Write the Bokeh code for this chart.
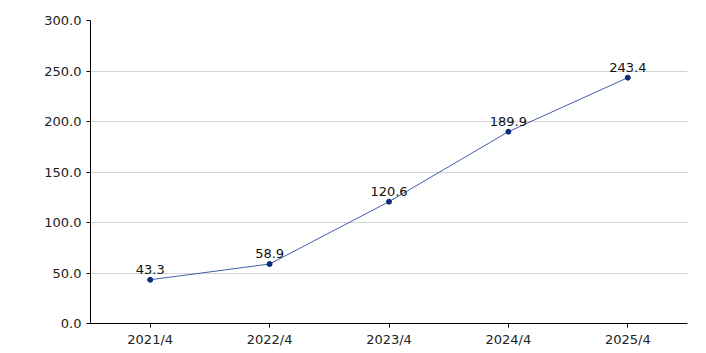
from bokeh.plotting import figure
from bokeh.models import ColumnDataSource, NumeralTickFormatter, FixedTicker, LabelSet, Range1d
from bokeh.core.properties import value
from bokeh.embed import file_html
from bokeh.resources import INLINE

categories = ["2021/4", "2022/4", "2023/4", "2024/4", "2025/4"]
values = [43.3, 58.9, 120.6, 189.9, 243.4]
labels = ["43.3", "58.9", "120.6", "189.9", "243.4"]
y_ticks = [0, 50, 100, 150, 200, 250, 300]

src = ColumnDataSource(dict(x=categories, y=values, lab=labels))

p = figure(x_range=categories, width=706, height=353, output_backend="svg",
           toolbar_location=None, min_border_left=90, min_border_right=19,
           min_border_top=20, min_border_bottom=30)
p.y_range = Range1d(0, 300)
p.x_range.range_padding = 0
p.outline_line_color = None
p.background_fill_color = "white"

p.line("x", "y", source=src, line_color="#3f5fa6", line_width=1)
p.scatter("x", "y", source=src, size=5, fill_color="#0b2d7c", line_color="#0b2d7c")

ls = LabelSet(x="x", y="y", text="lab", source=src, text_align="center",
              text_baseline="bottom", y_offset=6, text_font_size=value("13px"),
              text_font=value("DejaVu Sans"), text_color="#111111")
p.add_layout(ls)

p.yaxis.ticker = FixedTicker(ticks=y_ticks)
p.yaxis.formatter = NumeralTickFormatter(format="0.0")
p.yaxis.minor_tick_line_color = None
p.yaxis.major_tick_in = 0
p.yaxis.major_tick_out = 4
p.yaxis.major_label_standoff = 5
for ax in (p.xaxis, p.yaxis):
    ax.axis_line_color = "#000000"
    ax.major_tick_line_color = "#000000"
    ax.major_label_text_font = "DejaVu Sans"
    ax.major_label_text_font_size = "13px"
    ax.major_label_text_color = "#222222"
p.xaxis.major_tick_in = 0
p.xaxis.major_tick_out = 4
p.xaxis.major_label_standoff = 4

p.xgrid.grid_line_color = None
p.ygrid.grid_line_color = "#d4d4d4"
p.ygrid.grid_line_width = 1

open("out.html", "w").write(file_html(p, INLINE))
